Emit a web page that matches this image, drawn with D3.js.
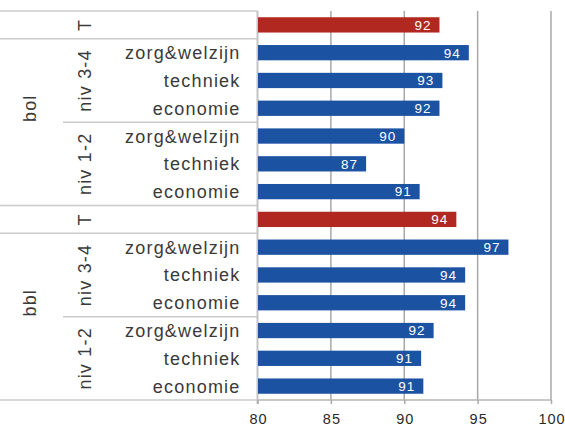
<!DOCTYPE html>
<html>
<head>
<meta charset="utf-8">
<script src="https://cdn.jsdelivr.net/npm/d3@7"></script>
<style>
  body { margin: 0; background: #fff; }
  svg { display: block; font-family: "Liberation Sans", Arial, sans-serif; }
</style>
</head>
<body>
<div class="chart"></div>
<script>
// data
const groups = ["bol", "bbl"]
const levels = ["niv 3-4", "niv 1-2"]
const sectors = ["zorg&welzijn", "techniek", "economie"]
const totals = [92.4, 93.55]           // "T" row per group
const bolValues = [94.4, 92.6, 92.4, 90.0, 87.4, 91.05]
const bblValues = [97.1, 94.15, 94.15, 92.0, 91.15, 91.3]
const xTicks = [80, 85, 90, 95, 100]

const width = 565
const height = 431
const margin = {top: 11, right: 14, bottom: 31, left: 257.5}

// flatten into rows, top to bottom
const rows = []
groups.forEach((g, gi) => {
  rows.push({id: g + "-T", group: g, level: "T", sector: "", value: totals[gi], total: true})
  const vals = gi === 0 ? bolValues : bblValues
  levels.forEach((l, li) => {
    sectors.forEach((s, si) => {
      rows.push({id: `${g}-${l}-${s}`, group: g, level: l, sector: s, value: vals[li * 3 + si], total: false})
    })
  })
})

const x = d3.scaleLinear()
  .domain([80, 100])
  .range([margin.left, width - margin.right])

const y = d3.scaleBand()
  .domain(rows.map(d => d.id))
  .range([margin.top, height - margin.bottom])
  .paddingInner(0.45)
  .paddingOuter(0.225)

const step = y.step()
const rowTop = id => y(id) - y.paddingOuter() * step

const svg = d3.select(".chart").append("svg")
  .attr("width", width)
  .attr("height", height)

// vertical gridlines
svg.append("g")
  .selectAll("line")
  .data(xTicks.slice(1))
  .join("line")
    .attr("x1", d => x(d))
    .attr("x2", d => x(d))
    .attr("y1", margin.top)
    .attr("y2", height - margin.bottom)
    .attr("stroke", "#a8a8a8")
    .attr("stroke-width", 1.5)

// separators in the label area + top/bottom
const seps = []
rows.forEach((d, i) => {
  if (d.total) seps.push({y: rowTop(d.id), x0: 0})
  if (i > 0 && !d.total && rows[i - 1].total) seps.push({y: rowTop(d.id), x0: 0})
  if (!d.total && d.level === levels[1] && d.sector === sectors[0]) seps.push({y: rowTop(d.id), x0: 63})
})
seps.push({y: height - margin.bottom, x0: 0})

svg.append("g")
  .selectAll("line")
  .data(seps)
  .join("line")
    .attr("x1", d => d.x0)
    .attr("x2", d => d.y === margin.top ? x(100) : margin.left)
    .attr("y1", d => d.y)
    .attr("y2", d => d.y)
    .attr("stroke", "#cbcbcb")
    .attr("stroke-width", 1.5)

// bottom axis line across plot
svg.append("line")
  .attr("x1", margin.left)
  .attr("x2", x(100))
  .attr("y1", height - margin.bottom)
  .attr("y2", height - margin.bottom)
  .attr("stroke", "#b4b4b4")
  .attr("stroke-width", 1.5)

// left axis line
svg.append("line")
  .attr("x1", margin.left)
  .attr("x2", margin.left)
  .attr("y1", margin.top)
  .attr("y2", height - margin.bottom + 4)
  .attr("stroke", "#c4c4c4")
  .attr("stroke-width", 2)

// bars
svg.append("g")
  .selectAll("rect")
  .data(rows)
  .join("rect")
    .attr("x", x(80) + 0.5)
    .attr("y", d => y(d.id))
    .attr("width", d => x(d.value) - x(80) - 0.5)
    .attr("height", y.bandwidth())
    .attr("fill", d => d.total ? "#b0281f" : "#1b52a2")

// value labels
svg.append("g")
  .selectAll("text")
  .data(rows)
  .join("text")
    .attr("x", d => x(d.value) - 8)
    .attr("y", d => y(d.id) + y.bandwidth() / 2)
    .attr("dy", "0.36em")
    .attr("text-anchor", "end")
    .attr("fill", "#fff")
    .attr("font-size", 13.5)
    .attr("letter-spacing", 1)
    .text(d => d3.format(".0f")(d.value))

// x axis
const xAxis = svg.append("g")
  .attr("transform", `translate(0,${height - margin.bottom})`)
  .call(d3.axisBottom(x).tickValues(xTicks).tickSize(4).tickPadding(10))
xAxis.select(".domain").remove()
xAxis.selectAll(".tick line").attr("stroke", "#a8a8a8").attr("stroke-width", 1.5)
xAxis.selectAll(".tick text")
  .attr("font-size", 14.5)
  .attr("letter-spacing", 1)
  .attr("dx", 0.5)
  .attr("fill", "#2a2a2a")
  .attr("font-family", "Liberation Sans, Arial, sans-serif")

// sector labels
svg.append("g")
  .selectAll("text")
  .data(rows.filter(d => !d.total))
  .join("text")
    .attr("x", 240.5)
    .attr("y", d => y(d.id) + y.bandwidth() / 2)
    .attr("dy", "0.36em")
    .attr("text-anchor", "end")
    .attr("font-size", 18)
    .attr("letter-spacing", 1.2)
    .attr("fill", "#3a3a3a")
    .text(d => d.sector)

// level labels (T, niv ..), rotated
const levelSpans = []
groups.forEach(g => {
  const t = rows.find(d => d.group === g && d.total)
  levelSpans.push({label: "T", y0: rowTop(t.id), y1: rowTop(t.id) + step})
  levels.forEach(l => {
    const rs = rows.filter(d => d.group === g && d.level === l)
    levelSpans.push({label: l, y0: rowTop(rs[0].id), y1: rowTop(rs[rs.length - 1].id) + step})
  })
})

svg.append("g")
  .selectAll("text")
  .data(levelSpans)
  .join("text")
    .attr("transform", d => `translate(85,${(d.y0 + d.y1) / 2}) rotate(-90)`)
    .attr("dy", "0.36em")
    .attr("text-anchor", "middle")
    .attr("font-size", 18)
    .attr("letter-spacing", 1.2)
    .attr("fill", "#3a3a3a")
    .text(d => d.label)

// group labels (bol, bbl)
const groupSpans = groups.map(g => {
  const rs = rows.filter(d => d.group === g)
  return {label: g, y0: rowTop(rs[0].id), y1: rowTop(rs[rs.length - 1].id) + step}
})

svg.append("g")
  .selectAll("text")
  .data(groupSpans)
  .join("text")
    .attr("transform", d => `translate(30,${(d.y0 + d.y1) / 2}) rotate(-90)`)
    .attr("dy", "0.36em")
    .attr("text-anchor", "middle")
    .attr("font-size", 18)
    .attr("letter-spacing", 1.2)
    .attr("fill", "#3a3a3a")
    .text(d => d.label)
</script>
</body>
</html>
